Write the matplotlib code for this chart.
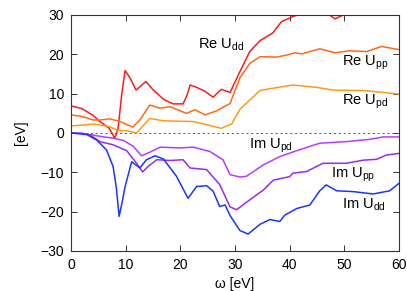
import numpy as np
import matplotlib.pyplot as plt

plt.rcParams['font.family'] = ['Liberation Sans', 'DejaVu Sans']

# Re U_dd
w_re_dd = [0, 2, 4, 5.3, 7, 8.0, 8.6, 9.3, 9.9, 10.8, 11.9, 12.8, 13.7, 15, 17, 18.7, 20.5, 21.2, 21.8, 23, 24.5, 26, 27.5, 29.1, 30.9, 32.7, 34.6, 36.9, 38.5, 40.6, 42, 44, 46, 47.3, 48.3, 49.8, 52, 56, 60]
v_re_dd = [6.9, 6.2, 4.5, 2.9, 1.2, -1.3, 1.0, 10.0, 15.9, 14.0, 10.9, 12.0, 13.1, 11.0, 8.5, 7.4, 7.4, 9.5, 12.2, 11.6, 10.6, 9.1, 11.1, 10.3, 15.6, 20.7, 23.5, 25.4, 28.3, 29.6, 30.3, 31, 30.8, 30.0, 29.0, 30.0, 31, 32, 33]

# Re U_pp
w_re_pp = [0, 2, 4.1, 5.3, 7.1, 9, 11.3, 12.6, 14.4, 16.3, 18.1, 21.1, 22.7, 24.5, 26.6, 29.1, 30.9, 32.7, 34.6, 37.6, 39.4, 41, 42.2, 45.5, 48.3, 51, 54.1, 56.8, 60]
v_re_pp = [4.6, 4.2, 3.3, 3.3, 3.6, 2.9, 1.5, 3.3, 7.1, 6.3, 6.7, 5.0, 5.9, 4.6, 5.6, 7.5, 14.0, 17.7, 19.4, 19.3, 19.8, 20.4, 20.1, 21.4, 20.4, 20.9, 20.7, 22.0, 21.2]

# Re U_pd
w_re_pd = [0, 2, 4.1, 7.1, 8.6, 10.2, 12, 14.4, 16.9, 22.4, 24.2, 27.5, 29.4, 30.9, 32.7, 34.6, 37, 40.6, 44.9, 48, 53.5, 60]
v_re_pd = [1.8, 2.0, 2.3, 1.6, 0.6, 0.6, 0.0, 3.7, 3.1, 2.9, 2.3, 1.2, 2.3, 6.0, 8.4, 10.8, 11.4, 12.2, 11.6, 10.9, 10.8, 9.9]

# Im U_pd
w_im_pd = [0, 2, 3.5, 5.5, 7.7, 9.6, 11.4, 12.9, 14.4, 16.3, 19.9, 22.4, 25.4, 27.8, 29.1, 30.9, 32.1, 35.2, 38.2, 41.3, 45.5, 50.4, 54.7, 57.1, 60]
v_im_pd = [0, -0.1, -0.4, -0.9, -1.3, -1.9, -3.4, -5.8, -4.9, -3.6, -3.8, -3.6, -4.7, -6.8, -10.6, -11.2, -11.0, -8.1, -6.0, -4.5, -2.6, -2.2, -1.6, -1.0, -1.0]

# Im U_pp
w_im_pp = [0, 2, 3.5, 5.3, 7.7, 10.2, 12, 13.1, 14.1, 15.7, 18.1, 20.5, 21.8, 24.8, 27.2, 29.1, 30.3, 32.7, 35.2, 37, 40, 40.6, 43.1, 46.1, 50.4, 53.5, 55.9, 57.7, 60]
v_im_pp = [0, -0.1, -0.5, -2.2, -3.0, -4.5, -7.7, -9.9, -8.5, -6.8, -7.0, -6.8, -8.9, -9.3, -13.1, -18.8, -19.5, -17.0, -14.5, -12.0, -11.1, -10.2, -9.8, -7.7, -7.7, -6.9, -6.7, -5.6, -5.2]

# Im U_dd
w_im_dd = [0, 2.9, 4.7, 6.5, 7.7, 8.3, 8.8, 9.3, 9.9, 11.1, 12.6, 13.8, 15.4, 16.9, 19.3, 21.4, 23, 24.8, 26, 27.2, 28.2, 29.1, 30.9, 32.4, 34.6, 36.4, 38.2, 39.1, 41.3, 43.7, 45.5, 46.7, 48.6, 51.6, 55.3, 58.3, 60]
v_im_dd = [0, -0.4, -1.8, -4.3, -8.5, -14.0, -21.2, -18.0, -13.6, -7.3, -8.9, -6.8, -5.8, -6.6, -11.0, -16.6, -13.6, -13.4, -14.8, -18.7, -18.3, -21.0, -24.8, -25.7, -23.2, -22.0, -22.5, -20.9, -19.2, -18.3, -14.7, -13.2, -14.7, -14.9, -15.5, -14.7, -12.8]

series = [
    (w_re_dd, v_re_dd, '#ff1a1a'),
    (w_re_pp, v_re_pp, '#ff6a1a'),
    (w_re_pd, v_re_pd, '#ff9a1a'),
    (w_im_pd, v_im_pd, '#b53cff'),
    (w_im_pp, v_im_pp, '#9a2aee'),
    (w_im_dd, v_im_dd, '#1a35ff'),
]

labels = [
    (23.2, 22.4, r'Re U$_{\rm dd}$'),
    (49.6, 17.8, r'Re U$_{\rm pp}$'),
    (49.6, 7.9, r'Re U$_{\rm pd}$'),
    (32.6, -3.3, r'Im U$_{\rm pd}$'),
    (47.6, -10.7, r'Im U$_{\rm pp}$'),
    (49.6, -18.3, r'Im U$_{\rm dd}$'),
]

plt.rcParams['mathtext.fontset'] = 'custom'
plt.rcParams['mathtext.rm'] = 'Liberation Sans'

fig = plt.figure(figsize=(4.07, 2.91), dpi=100)
ax = fig.add_axes([0.1744, 0.1375, 0.8059, 0.8110])

ax.axhline(0, color='#555555', lw=0.7, ls=(0, (2, 3)))
for w, v, c in series:
    ax.plot(w, v, color=c, lw=1.1)

for x, y, t in labels:
    ax.text(x, y, t, fontsize=10.5, va='center', ha='left')

ax.set_xlim(0, 60)
ax.set_ylim(-30, 30)
ax.set_xticks(np.arange(0, 61, 10))
ax.set_yticks(np.arange(-30, 31, 10))
ax.tick_params(direction='in', top=True, right=True, labelsize=10, length=4, width=0.7, colors='#333333', labelcolor='black', pad=5)
for s in ax.spines.values():
    s.set_linewidth(0.8)
    s.set_color('#333333')
ax.set_xlabel('ω [eV]', fontsize=10, labelpad=4)
ax.set_ylabel('[eV]', fontsize=10, labelpad=9)

fig.savefig('out.png', dpi=100)
